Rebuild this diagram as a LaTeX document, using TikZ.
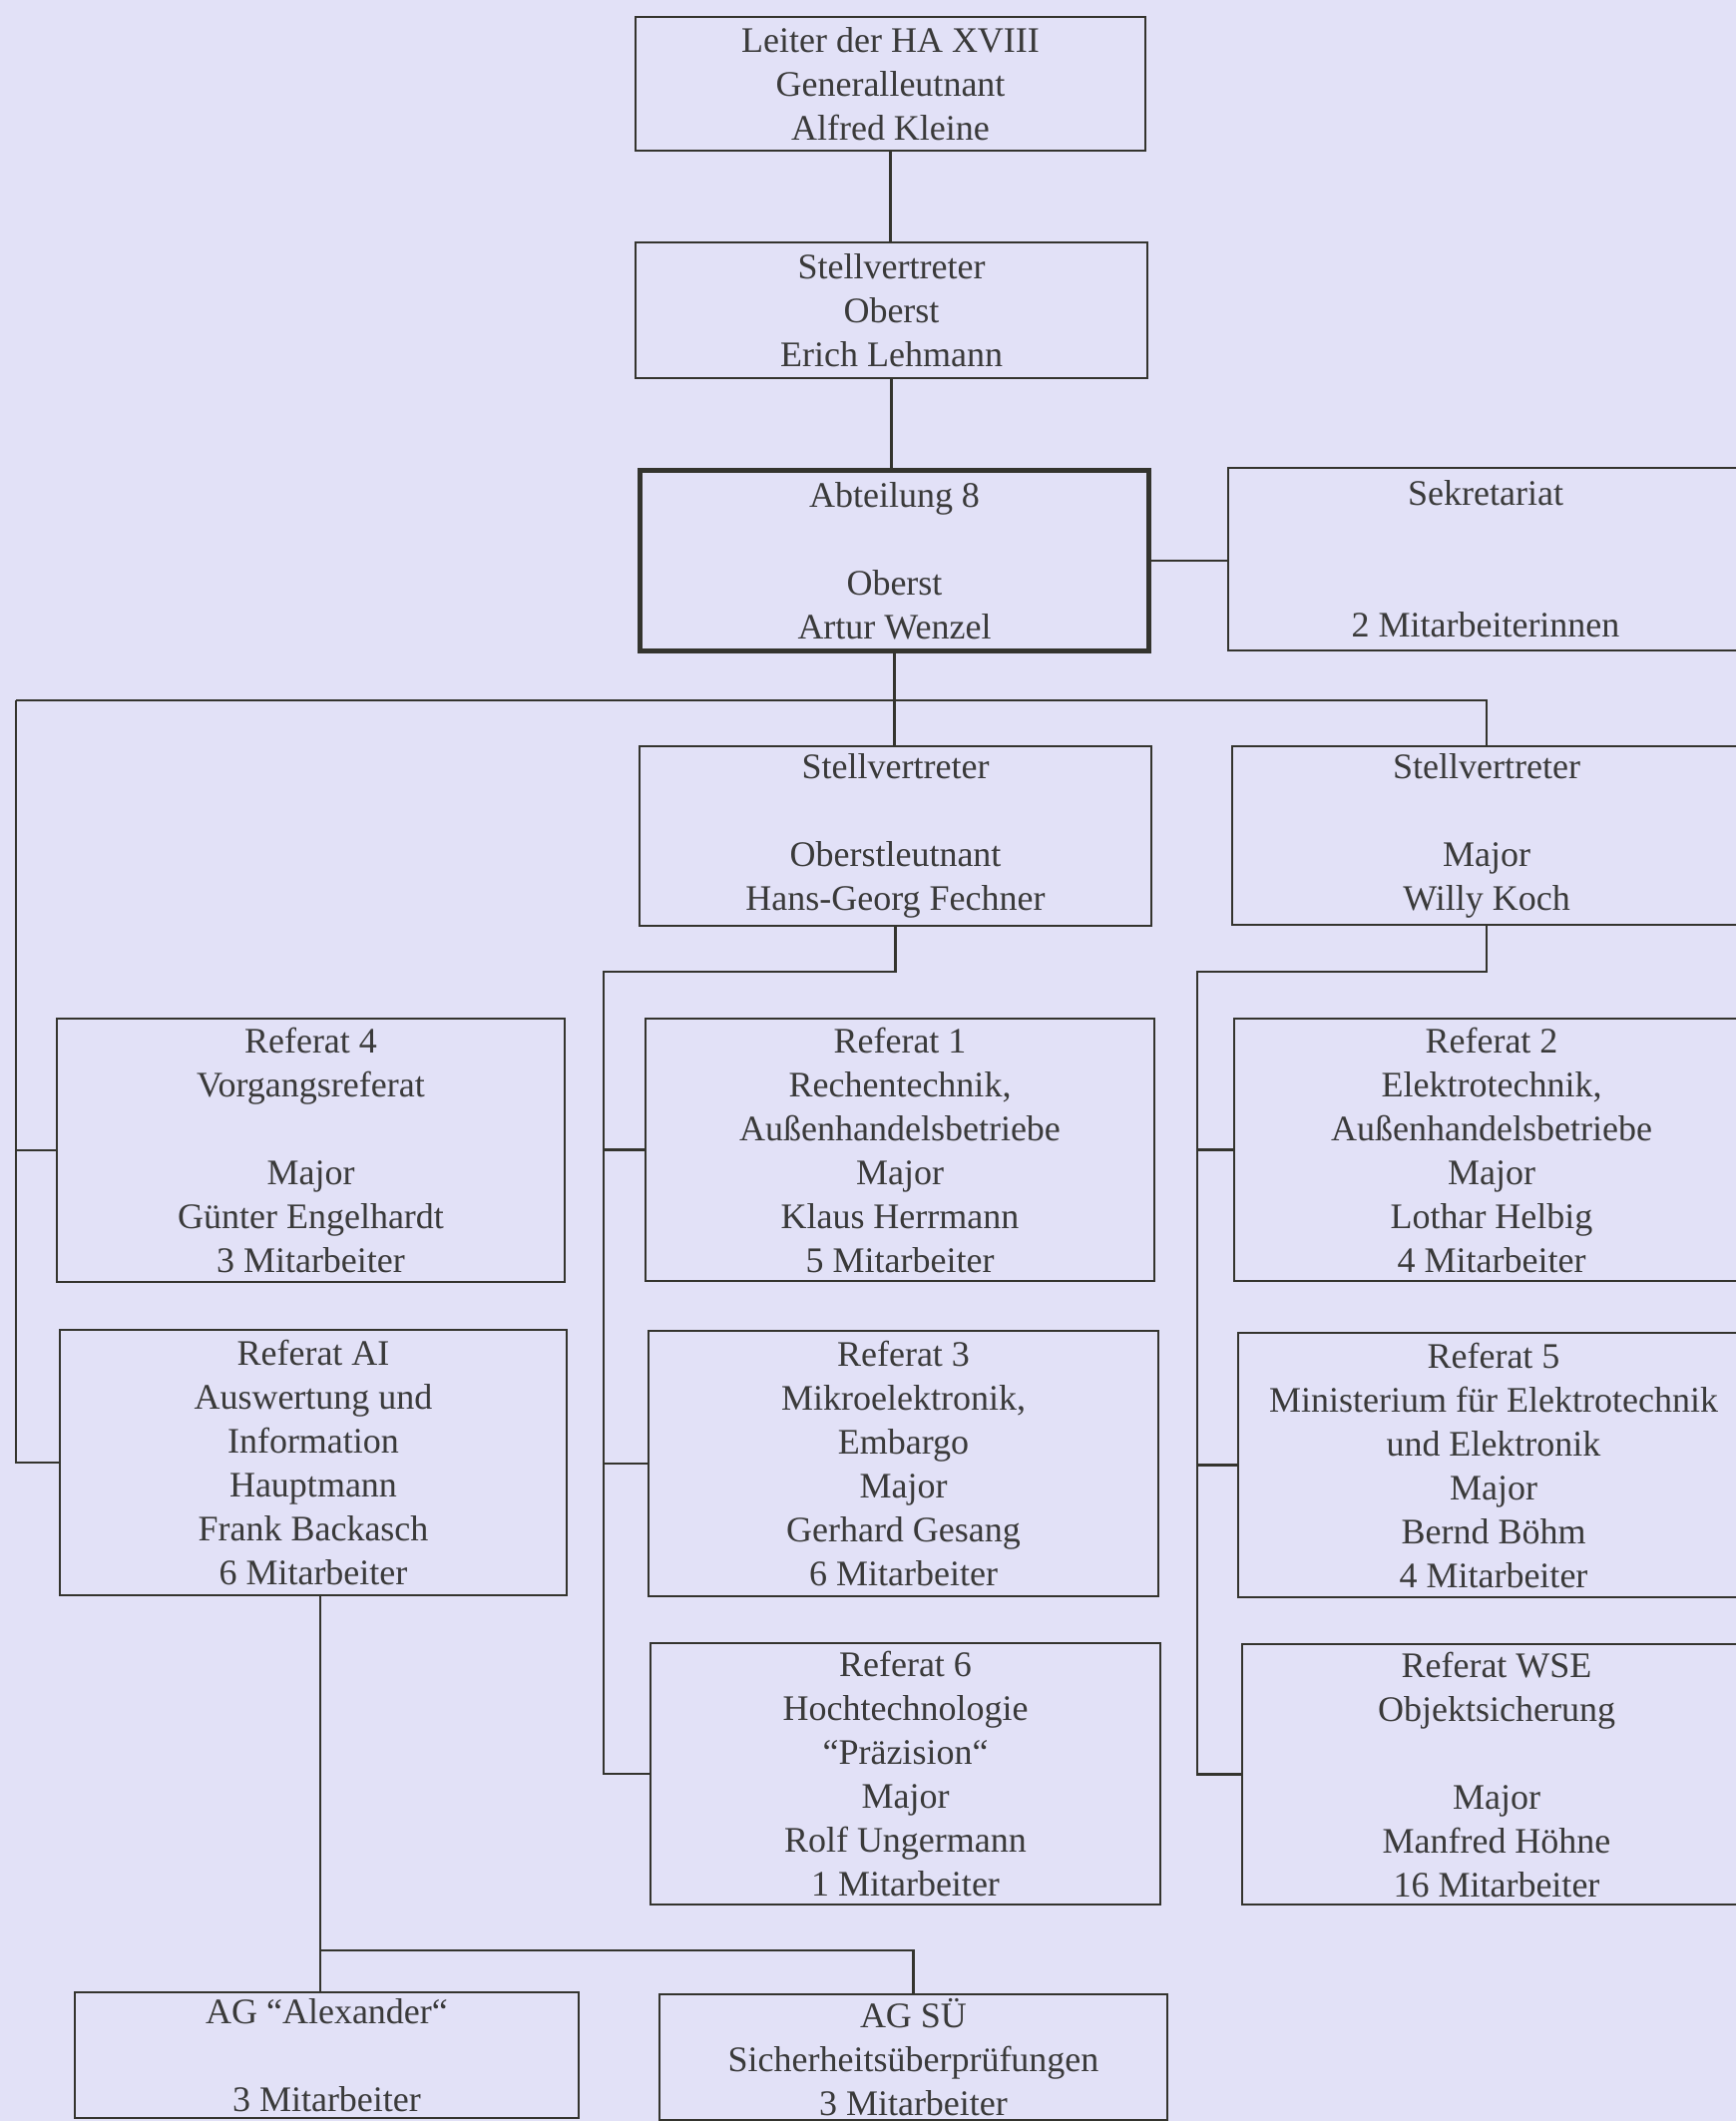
\documentclass[tikz,border=0pt]{standalone}
\usepackage{fontspec}
\setmainfont{Liberation Serif}
\definecolor{bgc}{RGB}{226,225,247}
\definecolor{linec}{RGB}{52,52,46}
\definecolor{textc}{RGB}{58,58,58}
\tikzset{
  orgbox/.style={draw=linec, line width=2.5pt, inner sep=0pt, align=center,
    text=textc, font=\fontsize{36}{44}\selectfont},
  conn/.style={draw=linec, line width=2.5pt},
}
\begin{document}
\begin{tikzpicture}[x=1pt,y=-1pt]
\useasboundingbox (0,0) rectangle (1740,2126);
\fill[bgc] (0,0) rectangle (1740,2126);
\clip (0,0) rectangle (1740,2126);

% nodes
\node[orgbox, minimum width=511pt, minimum height=134pt] (top) at (892.5,84)
  {Leiter der HA XVIII\\Generalleutnant\\Alfred Kleine};
\node[orgbox, minimum width=513pt, minimum height=136pt] (st1) at (893.5,311)
  {Stellvertreter\\Oberst\\Erich Lehmann};
\node[orgbox, line width=5pt, minimum width=510pt, minimum height=181pt] (abt) at (896.5,562)
  {Abteilung 8\\[44pt]Oberst\\Artur Wenzel};
\node[orgbox, minimum width=516pt, minimum height=183pt] (sek) at (1489,560.5)
  {Sekretariat\\[88pt]2 Mitarbeiterinnen};
\node[orgbox, minimum width=513pt, minimum height=180pt] (st2) at (897.5,838)
  {Stellvertreter\\[44pt]Oberstleutnant\\Hans-Georg Fechner};
\node[orgbox, minimum width=510pt, minimum height=179pt] (st3) at (1490,837.5)
  {Stellvertreter\\[44pt]Major\\Willy Koch};

\node[orgbox, minimum width=509pt, minimum height=264pt] (r4) at (311.5,1153)
  {Referat 4\\Vorgangsreferat\\[44pt]Major\\Günter Engelhardt\\3 Mitarbeiter};
\node[orgbox, minimum width=508pt, minimum height=266pt] (rai) at (314,1466)
  {Referat AI\\Auswertung und\\Information\\Hauptmann\\Frank Backasch\\6 Mitarbeiter};

\node[orgbox, minimum width=510pt, minimum height=263pt] (r1) at (902,1152.5)
  {Referat 1\\Rechentechnik,\\Außenhandelsbetriebe\\Major\\Klaus Herrmann\\5 Mitarbeiter};
\node[orgbox, minimum width=511pt, minimum height=266pt] (r3) at (905.5,1467)
  {Referat 3\\Mikroelektronik,\\Embargo\\Major\\Gerhard Gesang\\6 Mitarbeiter};
\node[orgbox, minimum width=511pt, minimum height=262pt] (r6) at (907.5,1778)
  {Referat 6\\Hochtechnologie\\“Präzision“\\Major\\Rolf Ungermann\\1 Mitarbeiter};

\node[orgbox, minimum width=516pt, minimum height=263pt] (r2) at (1495,1152.5)
  {Referat 2\\Elektrotechnik,\\Außenhandelsbetriebe\\Major\\Lothar Helbig\\4 Mitarbeiter};
\node[orgbox, minimum width=512pt, minimum height=265pt] (r5) at (1497,1468.5)
  {Referat 5\\Ministerium für Elektrotechnik\\und Elektronik\\Major\\Bernd Böhm\\4 Mitarbeiter};
\node[orgbox, minimum width=510pt, minimum height=261pt] (rwse) at (1500,1778.5)
  {Referat WSE\\Objektsicherung\\[44pt]Major\\Manfred Höhne\\16 Mitarbeiter};

\node[orgbox, minimum width=505pt, minimum height=126pt] (agA) at (327.5,2060)
  {AG “Alexander“\\[44pt]3 Mitarbeiter};
\node[orgbox, minimum width=509pt, minimum height=126pt] (agS) at (915.5,2062)
  {AG SÜ\\Sicherheitsüberprüfungen\\3 Mitarbeiter};

% junction coordinates
\coordinate (busL) at (16,702);
\coordinate (busR) at (1490,702);
\coordinate (mj) at (605,974);
\coordinate (rj) at (1200,974);
\coordinate (agj) at (321,1955);

% connectors
\draw[conn] (top.south) -- (top.south |- st1.north);
\draw[conn] (st1.south) -- (st1.south |- abt.north);
\draw[conn] (abt.east) -- (abt.east -| sek.west);
\draw[conn] (abt.south) -- (abt.south |- busL);
\draw[conn] (busL) -- (busR) -- (busR |- st3.north);
\draw[conn] (abt.south |- busL) -- (abt.south |- st2.north);
\draw[conn] (busL) |- (rai.west);
\draw[conn] (busL |- r4.west) -- (r4.west);

\draw[conn] (st2.south) -- (st2.south |- mj) -- (mj) |- (r6.west);
\draw[conn] (mj |- r1.west) -- (r1.west);
\draw[conn] (mj |- r3.west) -- (r3.west);

\draw[conn] (st3.south) -- (st3.south |- rj) -- (rj) |- (rwse.west);
\draw[conn] (rj |- r2.west) -- (r2.west);
\draw[conn] (rj |- r5.west) -- (r5.west);

\draw[conn] (agj |- rai.south) -- (agj) -- (agj |- agA.north);
\draw[conn] (agj) -- (agj -| agS.north) -- (agS.north);
\end{tikzpicture}
\end{document}
